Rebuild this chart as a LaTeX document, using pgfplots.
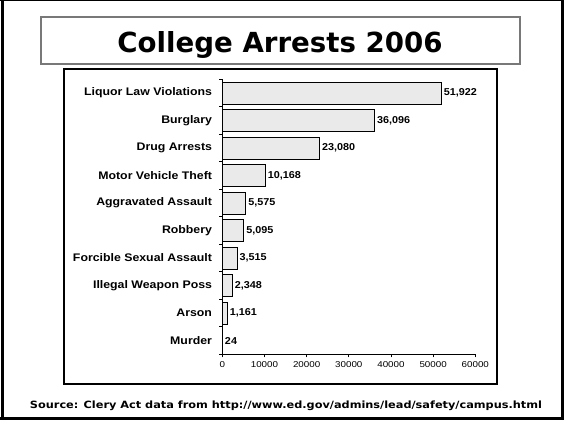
\documentclass[border=0pt]{standalone}
\usepackage{fontspec}
\setmainfont{Liberation Sans}
\newfontfamily\dejavu{DejaVu Sans}
\usepackage{pgfplots}
\pgfplotsset{compat=1.18}
\definecolor{barfill}{RGB}{234,234,234}
\definecolor{boxgray}{RGB}{120,120,120}
\begin{document}
\begin{tikzpicture}
\useasboundingbox (0pt,0pt) rectangle (564pt,-422pt);
% outer frame
\draw[line width=1.5pt] (0pt,-0.75pt) -- (564pt,-0.75pt);
\draw[line width=2.5pt] (2.5pt,0pt) -- (2.5pt,-420pt);
\draw[line width=3pt] (0pt,-418.5pt) -- (564pt,-418.5pt);
\draw[line width=2.5pt] (562.5pt,0pt) -- (562.5pt,-420pt);
% title box
\draw[boxgray, line width=1.5pt] (41pt,-17pt) rectangle (520pt,-64pt);
\node[anchor=base, inner sep=0pt] at (280pt,-53pt) {\resizebox{325pt}{21pt}{\dejavu\bfseries College Arrests 2006}};
% chart box
\draw[line width=1.2pt] (64pt,-69pt) rectangle (497pt,-384pt);
\node[anchor=base, inner sep=0pt] at (286pt,-408pt) {\resizebox{512pt}{7.6pt}{\dejavu\bfseries Source: Clery Act data from http://www.ed.gov/admins/lead/safety/campus.html}};
\begin{axis}[
  at={(222.3pt,-354.3pt)}, anchor=south west,
  scale only axis, width=253pt, height=275pt,
  xbar, bar width=22pt,
  xmin=0, xmax=60000, ymin=-0.5, ymax=9.5,
  axis lines*=left,
  axis line style={black, line width=0.8pt},
  xtick={0,10000,...,60000},
  ytick={-0.5,0.5,...,9.5},
  y tick label as interval,
  yticklabels={Murder,Arson,Illegal Weapon Poss,Forcible Sexual Assault,Robbery,Aggravated Assault,Motor Vehicle Theft,Drug Arrests,Burglary,Liquor Law Violations},
  tick align=outside,
  major tick length=3pt,
  tick style={black, line width=0.8pt},
  /pgf/number format/assume math mode=true,
  /pgf/number format/1000 sep={},
  x tick label style={font=\fontsize{8.5}{10}\selectfont, xscale=1.15, yshift=-1pt},
  y tick label style={font=\bfseries\fontsize{11}{13}\selectfont, xscale=1.12, xshift=-3pt},
  scaled x ticks=false,
  nodes near coords={\pgfmathprintnumber[1000 sep={,},assume math mode=true]{\pgfplotspointmeta}},
  nodes near coords style={font=\bfseries\fontsize{10}{12}\selectfont, xscale=1.08, anchor=west, inner sep=2pt, black},
  clip=false,
]
\addplot[draw=black, fill=barfill, line width=0.8pt] coordinates {
(24,0) (1161,1) (2348,2) (3515,3) (5095,4) (5575,5) (10168,6) (23080,7) (36096,8) (51922,9)
};
\end{axis}
\end{tikzpicture}
\end{document}
